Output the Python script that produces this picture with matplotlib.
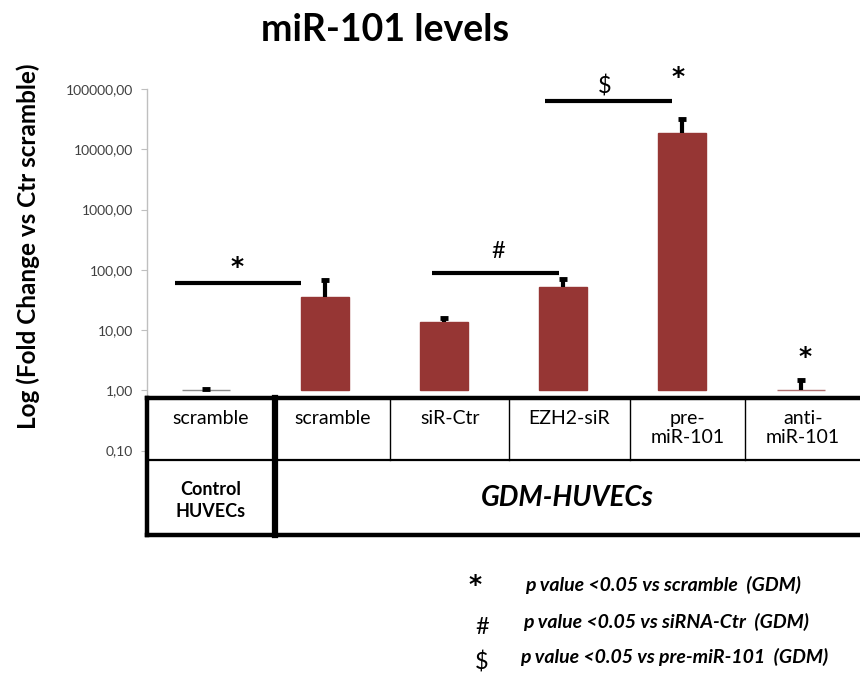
import numpy as np
import matplotlib
matplotlib.use("Agg")
import matplotlib.pyplot as plt
from matplotlib.patches import Rectangle

plt.rcParams['font.family'] = ['Lato', 'DejaVu Sans']

# Data
categories = ["scramble", "scramble", "siR-Ctr", "EZH2-siR", "pre-\nmiR-101", "anti-\nmiR-101"]
fold_change = [1.0, 35.5, 13.7, 52.0, 18600.0, 1.0]
err_upper = [0.05, 32.0, 2.2, 19.0, 13000.0, 0.5]
y_ticks = [0.1, 1, 10, 100, 1000, 10000, 100000]
y_tick_labels = ["0,10", "1,00", "10,00", "100,00", "1000,00", "10000,00", "100000,00"]

# significance brackets: (x_start, x_end, y_level) and their symbols
brackets = [(-0.26, 0.80, 60.0), (1.90, 2.97, 89.0), (2.85, 3.92, 63000.0)]
marks = [("*", 0.26, 112.0), ("#", 2.46, 199.0), ("$", 3.35, 110000.0),
         ("*", 3.97, 158000.0), ("*", 5.03, 3.6)]

W, H = 860, 673
fig = plt.figure(figsize=(W / 100, H / 100), dpi=100)

ax_left, ax_right = 146.5 / W, 860.5 / W
ax_bottom, ax_top = 1 - 450.5 / H, 1 - 89 / H
ax = fig.add_axes([ax_left, ax_bottom, ax_right - ax_left, ax_top - ax_bottom])

bar_red = "#963634"
x = np.arange(len(categories))
baseline = 1.0
heights = [v - baseline for v in fold_change]
face = ["#8c8c8c", bar_red, bar_red, bar_red, bar_red, "#b07070"]
ax.bar(x, heights, bottom=baseline, width=0.395, color=face, edgecolor=face,
       linewidth=1.0, zorder=2)

# upper error bars only, with a single cap on top
tops = np.array(fold_change) + np.array(err_upper)
ax.vlines(x, fold_change, tops, color="black", lw=3, zorder=3)
ax.plot(x, tops, linestyle="none", marker="_", markersize=6, mew=3.5,
        color="black", zorder=3)

ax.set_yscale("log")
ax.set_ylim(0.1, 100000)
ax.set_xlim(-0.5, 5.5)
ax.set_yticks(y_ticks)
ax.set_yticklabels(y_tick_labels, fontsize=10, color="#404040")
ax.minorticks_off()
ax.set_xticks([])
for s in ("top", "right", "bottom"):
    ax.spines[s].set_visible(False)
ax.spines["left"].set_color("#bfbfbf")
ax.spines["left"].set_linewidth(1.0)
ax.tick_params(axis="y", direction="out", length=4, color="#bfbfbf", pad=6)
ax.patch.set_alpha(0)

for x0, x1, yl in brackets:
    ax.plot([x0, x1], [yl, yl], color="black", lw=3, solid_capstyle="butt",
            clip_on=False, zorder=3)
for sym, xs, ys in marks:
    if sym == "*":
        ax.text(xs, ys, sym, ha="center", va="center", fontsize=18,
                family="DejaVu Sans", fontweight="bold", clip_on=False)
    else:
        txt = r"\$" if sym == "$" else sym
        ax.text(xs, ys, txt, ha="center", va="center", fontsize=17, clip_on=False)

fig.text(385 / W, 1 - 30 / H, "miR-101 levels", ha="center", va="center",
         fontsize=27, fontweight="bold")
fig.text(28 / W, 1 - 246 / H, "Log (Fold Change vs Ctr scramble)", rotation=90,
         ha="center", va="center", fontsize=17.5, fontweight="bold")

# Data table under the bars
tab_top, tab_bot = 1 - 398 / H, 1 - 535 / H
tab = fig.add_axes([ax_left, tab_bot, ax_right - ax_left, tab_top - tab_bot], zorder=5)
tab.set_xlim(-0.5, 5.5)
tab.set_ylim(0, 1)
tab.axis("off")
tab.add_patch(Rectangle((-0.5, 0), 6, 1, facecolor="white", edgecolor="none", zorder=0))
row_split = 0.55
col_edges = [-0.5, 0.58, 1.545, 2.55, 3.56, 4.53, 5.5]
k = dict(color="black", solid_capstyle="projecting", clip_on=False)
tab.plot([-0.5, 5.5], [1, 1], lw=3.2, **k)
tab.plot([-0.5, 5.5], [0, 0], lw=3.2, **k)
tab.plot([-0.5, -0.5], [0, 1], lw=3.2, **k)
tab.plot([col_edges[1]] * 2, [0, 1], lw=4.5, **k)
tab.plot([-0.5, 5.5], [row_split, row_split], lw=1.6, **k)
for ce in col_edges[2:-1]:
    tab.plot([ce, ce], [row_split, 1], lw=1.0, **k)
for i, lab in enumerate(categories):
    cx = (col_edges[i] + col_edges[i + 1]) / 2
    tab.text(cx, 0.915, lab, ha="center", va="top", fontsize=14, linespacing=1.15)
tab.text((col_edges[0] + col_edges[1]) / 2, 0.255, "Control\nHUVECs",
         ha="center", va="center", fontsize=13, fontweight="bold", linespacing=1.35)
tab.text((col_edges[1] + col_edges[-1]) / 2, 0.27, "GDM-HUVECs",
         ha="center", va="center", fontsize=20, fontweight="bold", fontstyle="italic")

# Symbol key
key = [("*", 475, 585, "p value <0.05 vs scramble  (GDM)", 525, 585),
       ("#", 482, 628, "p value <0.05 vs siRNA-Ctr  (GDM)", 523, 622),
       ("$", 482, 662, "p value <0.05 vs pre-miR-101  (GDM)", 520, 657)]
for sym, sx, sy, label, lx, ly in key:
    if sym == "*":
        fig.text(sx / W, 1 - sy / H, sym, ha="center", va="center", fontsize=18,
                 family="DejaVu Sans", fontweight="bold")
    else:
        txt = r"\$" if sym == "$" else sym
        fig.text(sx / W, 1 - sy / H, txt, ha="center", va="center", fontsize=17)
    fig.text(lx / W, 1 - ly / H, label, ha="left", va="center", fontsize=14,
             fontweight="bold", fontstyle="italic")

fig.savefig("out.png", dpi=100)
